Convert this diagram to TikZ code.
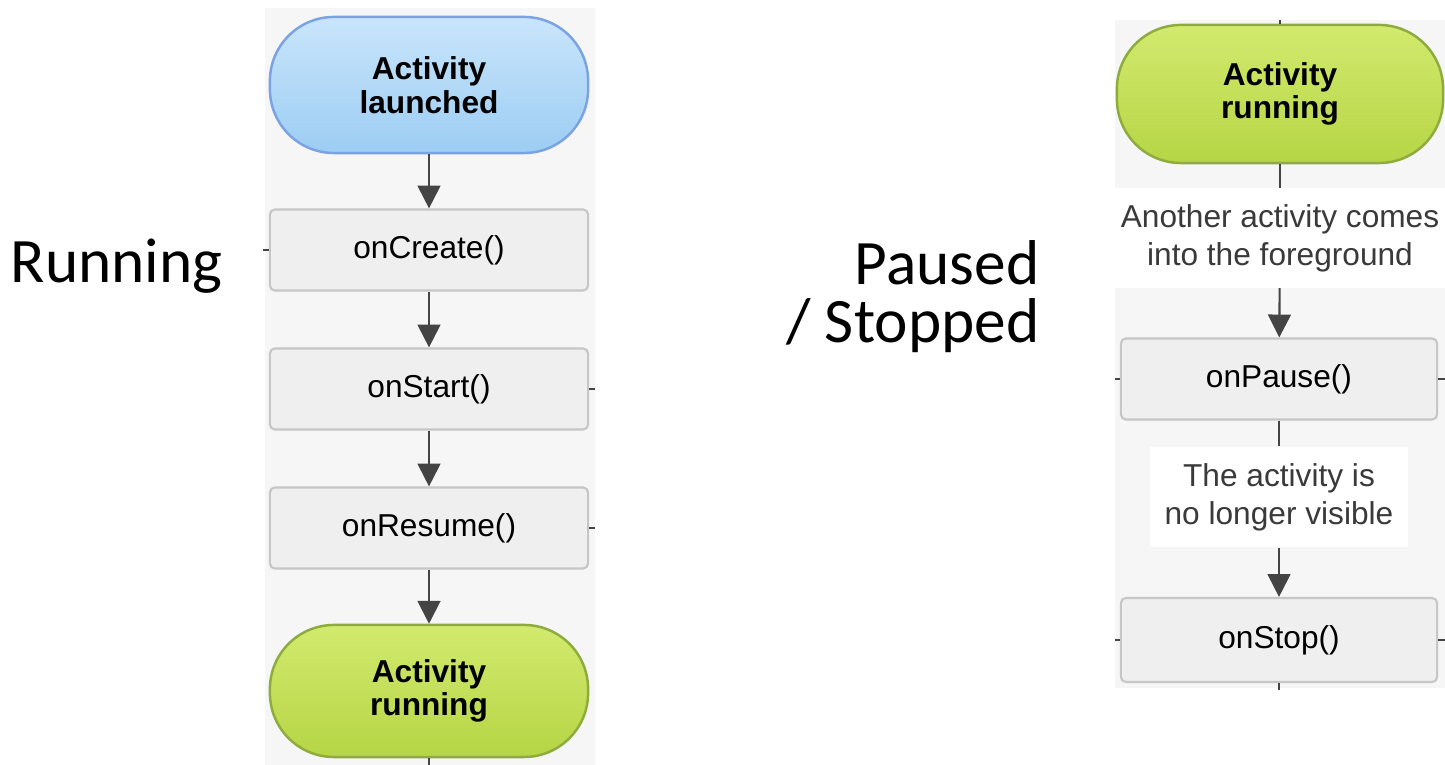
\documentclass[tikz,border=0pt]{standalone}
\usepackage{fontspec}
\setmainfont{Liberation Sans}
\newfontfamily\sidefont{Carlito}
\usetikzlibrary{arrows.meta, positioning}
\definecolor{panelgray}{HTML}{F6F6F6}
\definecolor{boxgray}{HTML}{EFEFEF}
\definecolor{boxline}{HTML}{C6C6C6}
\definecolor{arrowgray}{HTML}{444444}
\definecolor{notegray}{HTML}{3A3A3A}
\definecolor{bluetop}{HTML}{C9E5FB}
\definecolor{bluebot}{HTML}{9CCDF3}
\definecolor{blueline}{HTML}{7BA3E3}
\definecolor{greentop}{HTML}{D2EA6E}
\definecolor{greenbot}{HTML}{B6D545}
\definecolor{greenline}{HTML}{8EAB3E}
\tikzset{
	statenode/.style = {minimum width=3.18cm, text centered, align=center, rounded corners=0.64cm, line width=0.7pt, font=\fontsize{9}{9.6}\selectfont\bfseries},
	launchedstate/.style = {statenode, draw=blueline, top color=bluetop, bottom color=bluebot},
	runningstate/.style = {statenode, draw=greenline, top color=greentop, bottom color=greenbot},
	callback/.style = {rectangle, rounded corners=0.05cm, minimum width=3.18cm, minimum height=0.81cm, text centered, draw=boxline, fill=boxgray, line width=0.6pt, font=\fontsize{9}{10}\selectfont},
	note/.style = {align=center, fill=white, text=notegray, font=\fontsize{9}{10.8}\selectfont},
	side/.style = {inner sep=0pt, font=\sidefont\fontsize{18}{16.5}\selectfont},
	line/.style = {draw=arrowgray, line width=0.6pt, -{Triangle[length=6.5pt,width=6.5pt]}},
	stub/.style = {draw=arrowgray, line width=0.6pt}
}

\begin{document}
\begin{tikzpicture}[x=0.01cm, y=-0.01cm]
		\useasboundingbox (0,0) rectangle (1445,765);
		%底色
		\fill[panelgray] (265,8) rectangle (595,765);
		\fill[panelgray] (1115,20) rectangle (1445,688);

		%左边：启动
		\node (launched) [launchedstate, minimum height=1.36cm] at (429,85) {Activity\\launched};
		\node (create) [callback] at (429,250) {onCreate()};
		\node (start) [callback] at (429,389) {onStart()};
		\node (resume) [callback] at (429,528) {onResume()};
		\node (running) [runningstate, minimum height=1.32cm] at (429,691) {Activity\\running};

		%右边：暂停/停止
		\node (current) [runningstate, minimum width=3.26cm, minimum height=1.38cm] at (1280,94) {Activity\\running};
		\node (foreground) [note, minimum width=3.3cm, minimum height=0.99cm] at (1280,238) {Another activity comes\\into the foreground};
		\node (pause) [callback, minimum width=3.16cm] at (1279,379) {onPause()};
		\node (hidden) [note, minimum width=2.58cm, minimum height=1cm] at (1279,497) {The activity is\\no longer visible};
		\node (stop) [callback, minimum width=3.16cm, minimum height=0.84cm] at (1279,640) {onStop()};

		%状态名
		\node (runlabel) [side, anchor=base west] at (10,283) {Running};
		\node (pauselabel) [side, align=right, anchor=north east] at (1040,240) {Paused\\/ Stopped};

		%连接
		\path [line](launched) -- (create);
		\path [line](create) -- (start);
		\path [line](start) -- (resume);
		\path [line](resume) -- (running);
		\path [stub](current) -- (foreground);
		\path [line](foreground) -- (pause);
		\path [stub](pause) -- (hidden);
		\path [line](hidden) -- (stop);

		%断开的线头
		\coordinate (createin) at (263,250);
		\coordinate (startout) at (595,389);
		\coordinate (resumeout) at (595,528);
		\coordinate (runningout) at (429,765);
		\coordinate (currentin) at (1280,20);
		\coordinate (pausein) at (1115,379);
		\coordinate (pauseout) at (1445,379);
		\coordinate (stopin) at (1115,640);
		\coordinate (stopout) at (1445,640);
		\coordinate (stopdown) at (1279,690);
		\path [stub](createin) -- (create.west);
		\path [stub](start.east) -- (startout);
		\path [stub](resume.east) -- (resumeout);
		\path [stub](running.south) -- (runningout);
		\path [stub](currentin) -- (current.north);
		\path [stub](pausein) -- (pause.west);
		\path [stub](pause.east) -- (pauseout);
		\path [stub](stopin) -- (stop.west);
		\path [stub](stop.east) -- (stopout);
		\path [stub](stop.south) -- (stopdown);
\end{tikzpicture}
\end{document}
